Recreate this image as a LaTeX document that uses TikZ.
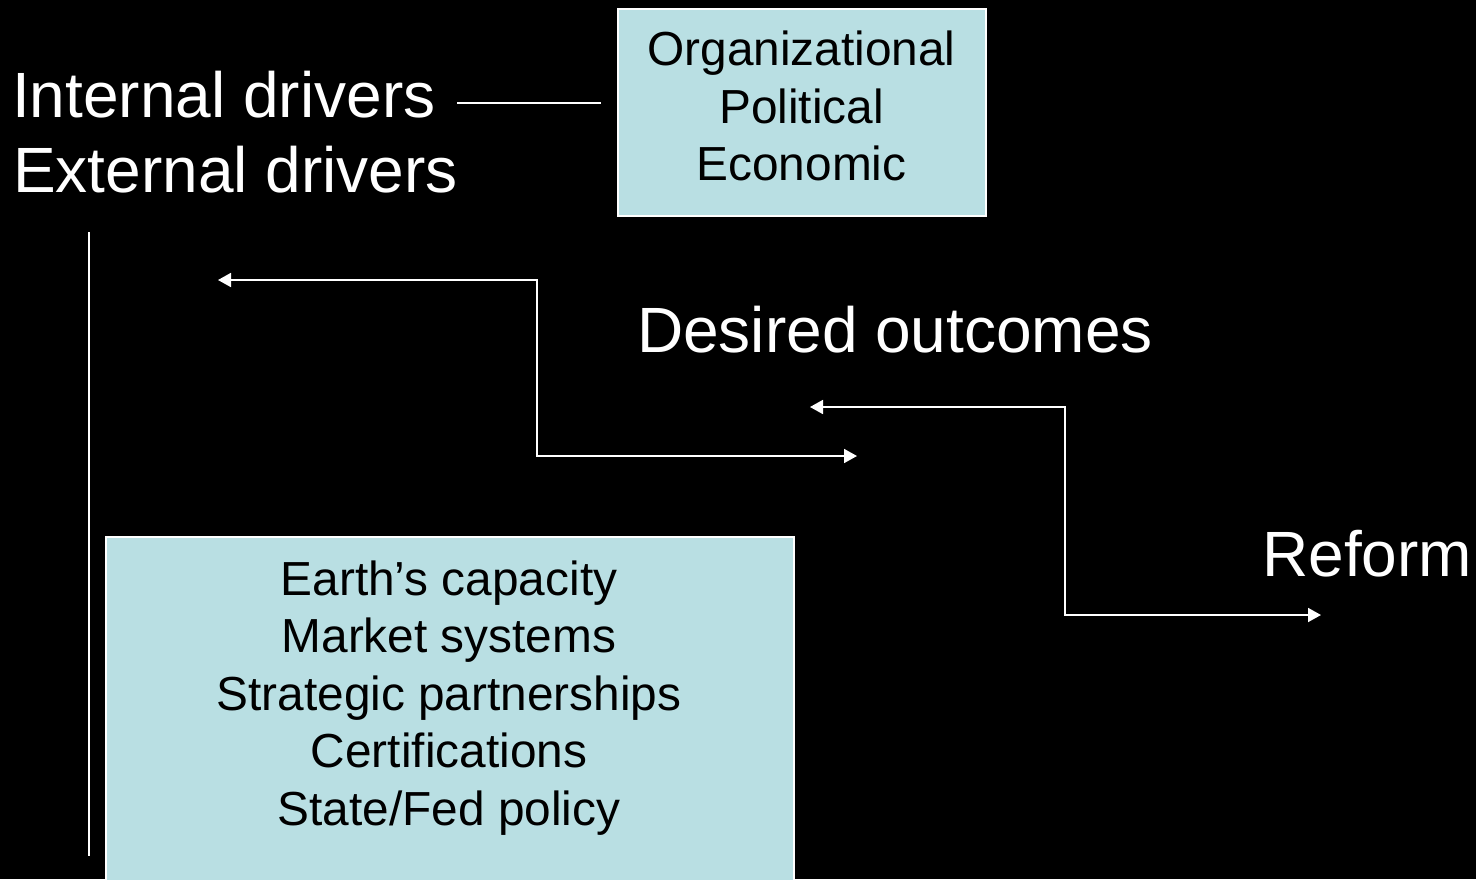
\documentclass[tikz,border=0pt]{standalone}
\usepackage{fontspec}
\setmainfont{Liberation Sans}
\usetikzlibrary{arrows.meta}
\definecolor{boxfill}{RGB}{185,223,227}
\tikzset{
  bigtxt/.style={text=white, inner sep=0pt, anchor=base west, font=\fontsize{64}{70}\selectfont},
  boxtxt/.style={text=black, inner sep=0pt, align=center, font=\fontsize{47.8}{57.5}\selectfont},
  panel/.style={draw=white, line width=1.5pt, fill=boxfill, inner sep=0pt, anchor=north west},
  conn/.style={draw=white, line width=1.8pt},
  dtip/.style={{Triangle[length=13pt,width=14pt]}-{Triangle[length=13pt,width=14pt]}}
}
\begin{document}
\begin{tikzpicture}[x=1pt,y=-1pt]
\useasboundingbox (0,0) rectangle (1476,879);
\fill[black] (0,0) rectangle (1476,879);
% boxes
\node[panel, minimum width=368pt, minimum height=207pt] (org) at (617,8) {};
\node[boxtxt] (orgtxt) at (801.5,106) {Organizational\\Political\\Economic};
\node[panel, minimum width=688pt, minimum height=400pt] (ext) at (105,536) {};
\node[boxtxt] (exttxt) at (449,698) {Earth’s capacity\\Market systems\\Strategic partnerships\\Certifications\\State/Fed policy};
% labels
\node[bigtxt] (internal) at (12,117) {Internal drivers};
\node[bigtxt] (external) at (13,192) {External drivers};
\node[bigtxt] (desired) at (637,352) {Desired outcomes};
\node[bigtxt] (reform) at (1262,576) {Reform};
% connectors
\coordinate (lineA) at (457,103);
\coordinate (lineB) at (601,103);
\draw[conn] (lineA) -- (lineB);
\coordinate (vtop) at (89,232);
\coordinate (vbot) at (89,856);
\draw[conn] (vtop) -- (vbot);
\coordinate (a1l) at (218,280);
\coordinate (a1c) at (537,280);
\coordinate (a1d) at (537,456);
\coordinate (a1r) at (857,456);
\draw[conn, dtip] (a1l) -- (a1c) -- (a1d) -- (a1r);
\coordinate (a2l) at (810,407);
\coordinate (a2c) at (1065,407);
\coordinate (a2d) at (1065,615);
\coordinate (a2r) at (1321,615);
\draw[conn, dtip] (a2l) -- (a2c) -- (a2d) -- (a2r);
\end{tikzpicture}
\end{document}
